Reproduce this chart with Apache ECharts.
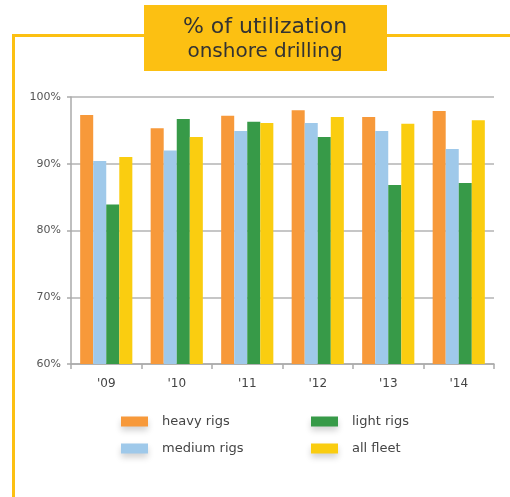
<!DOCTYPE html>
<html>
<head>
<meta charset="utf-8">
<script src="https://cdn.jsdelivr.net/npm/echarts@6/dist/echarts.min.js"></script>
<style>
  html, body { margin: 0; padding: 0; background: #fff; }
  #chart { width: 510px; height: 497px; }
</style>
</head>
<body>
<div id="chart"></div>
<script>
// data
const years = ["'09", "'10", "'11", "'12", "'13", "'14"];
const heavyRigs = [97.3, 95.3, 97.2, 98.0, 97.0, 97.9];
const mediumRigs = [90.4, 92.0, 94.9, 96.1, 94.9, 92.2];
const lightRigs = [83.9, 96.7, 96.3, 94.0, 86.8, 87.1];
const allFleet = [91.0, 94.0, 96.1, 97.0, 96.0, 96.5];

const font = 'DejaVu Sans, Verdana, sans-serif';
const yellow = '#fcc012';

const chart = echarts.init(document.getElementById('chart'));

const legendBase = {
    orient: 'vertical',
    top: 410,
    itemWidth: 27,
    itemHeight: 10,
    itemGap: 14,
    icon: 'rect',
    selectedMode: false,
    itemStyle: {
        shadowColor: 'rgba(0,0,0,0.18)',
        shadowBlur: 6,
        shadowOffsetY: 4
    },
    textStyle: {
        fontFamily: font,
        fontSize: 13,
        color: '#444',
        padding: [0, 0, 0, 9]
    }
};

const option = {
    animation: false,
    backgroundColor: '#fff',
    graphic: [
        // yellow frame
        { type: 'rect', left: 12, top: 34, shape: { width: 498, height: 3 }, style: { fill: yellow } },
        { type: 'rect', left: 12, top: 34, shape: { width: 3, height: 463 }, style: { fill: yellow } },
        // title box
        { type: 'rect', left: 144, top: 5, shape: { width: 243, height: 66 }, style: { fill: yellow } },
        {
            type: 'text', x: 265, y: 27,
            style: { text: '% of utilization', font: '22px ' + font, fill: '#333', align: 'center', verticalAlign: 'middle' }
        },
        {
            type: 'text', x: 265, y: 52,
            style: { text: 'onshore drilling', font: '20px ' + font, fill: '#333', align: 'center', verticalAlign: 'middle' }
        }
    ],
    legend: [
        Object.assign({}, legendBase, { left: 116, data: ['heavy rigs', 'medium rigs'] }),
        Object.assign({}, legendBase, { left: 306, data: ['light rigs', 'all fleet'] })
    ],
    grid: { left: 71, right: 16, top: 97, bottom: 133 },
    xAxis: {
        type: 'category',
        data: years,
        axisLine: { lineStyle: { color: '#aaa', width: 1.5 } },
        axisTick: { show: true, length: 5, lineStyle: { color: '#aaa', width: 1.5 } },
        axisLabel: { fontFamily: font, fontSize: 12, color: '#444', margin: 14 }
    },
    yAxis: {
        type: 'value',
        min: 60,
        max: 100,
        interval: 10,
        axisLine: { show: true, lineStyle: { color: '#aaa', width: 1.5 } },
        axisTick: { show: true, length: 4, lineStyle: { color: '#aaa', width: 1.5 } },
        axisLabel: { fontFamily: font, fontSize: 11, color: '#555', formatter: '{value}%', margin: 10 },
        splitLine: { lineStyle: { color: '#b3b3b3', width: 1.5 } }
    },
    series: [
        { name: 'heavy rigs', type: 'bar', data: heavyRigs, itemStyle: { color: '#f7993a' }, barGap: '0%', barCategoryGap: '26%' },
        { name: 'medium rigs', type: 'bar', data: mediumRigs, itemStyle: { color: '#9fc9ea' } },
        { name: 'light rigs', type: 'bar', data: lightRigs, itemStyle: { color: '#379a48' } },
        { name: 'all fleet', type: 'bar', data: allFleet, itemStyle: { color: '#facd10' } }
    ]
};

chart.setOption(option);
</script>
</body>
</html>
